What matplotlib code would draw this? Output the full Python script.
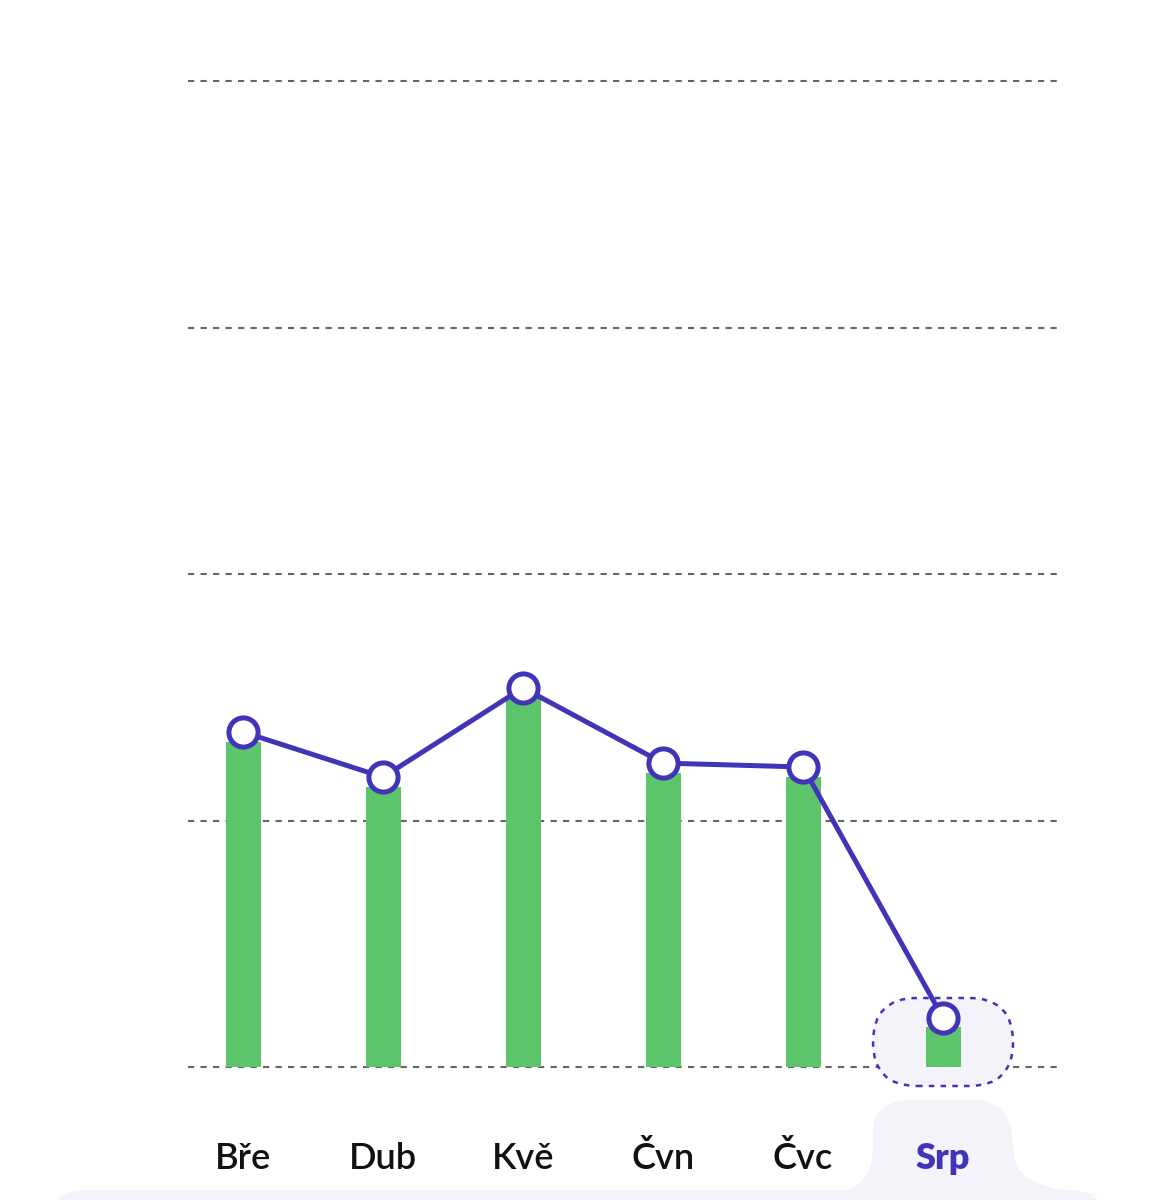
import matplotlib
matplotlib.use("Agg")
import matplotlib.pyplot as plt
from matplotlib.patches import PathPatch, FancyBboxPatch
from matplotlib.path import Path
import matplotlib.transforms as mtransforms

# ---- data ----
months = ["Bře", "Dub", "Kvě", "Čvn", "Čvc", "Srp"]
bar_values = [131.8, 113.6, 149.7, 119.3, 117.6, 16.2]
line_values = [135.9, 117.6, 153.8, 123.3, 121.7, 19.9]
grid_values = [0, 100, 200, 300, 400]
highlight_index = 5

# ---- style ----
W, H = 1155, 1200
GREEN = "#5CC46A"
INDIGO = "#4234B8"
LAVENDER = "#F4F3FA"
GRID = "#666666"

plt.rcParams['font.family'] = ['Lato', 'DejaVu Sans']

fig = plt.figure(figsize=(W / 100, H / 100), dpi=100)
fig.patch.set_facecolor("white")


def fx(px):
    return px / W


def fy(py):
    return 1 - py / H


# background decoration: tab under the highlighted label + bottom band
verts = [
    (fx(828), fy(1195)),
    (fx(862), fy(1190)), (fx(873), fy(1175)), (fx(873), fy(1145)),
    (fx(873), fy(1130)),
    (fx(873), fy(1112)), (fx(888), fy(1100)), (fx(908), fy(1100)),
    (fx(976), fy(1100)),
    (fx(998), fy(1100)), (fx(1010), fy(1115)), (fx(1012), fy(1135)),
    (fx(1015), fy(1160)),
    (fx(1020), fy(1185)), (fx(1060), fy(1192)), (fx(1105), fy(1195)),
    (fx(828), fy(1195)),
]
codes = [Path.MOVETO,
         Path.CURVE4, Path.CURVE4, Path.CURVE4,
         Path.LINETO,
         Path.CURVE4, Path.CURVE4, Path.CURVE4,
         Path.LINETO,
         Path.CURVE4, Path.CURVE4, Path.CURVE4,
         Path.LINETO,
         Path.CURVE4, Path.CURVE4, Path.CURVE4,
         Path.CLOSEPOLY]
fig.patches.append(PathPatch(Path(verts, codes), transform=fig.transFigure,
                             facecolor=LAVENDER, edgecolor="none", zorder=-2))
fig.patches.append(FancyBboxPatch((fx(50), fy(1230)), fx(1105) - fx(50), fy(1190) - fy(1230),
                                  boxstyle="round,pad=0,rounding_size=0.03",
                                  transform=fig.transFigure, facecolor=LAVENDER,
                                  edgecolor="none", zorder=-2))

ax = fig.add_axes([fx(188), 133 / H, (1058 - 188) / W, (1067 - 81) / H])
ax.set_xlim(-0.393, 5.821)
ax.set_ylim(grid_values[0], grid_values[-1])
ax.set_axis_off()

x = list(range(len(months)))

for g in grid_values:
    ax.axhline(g, color=GRID, lw=1.5, ls=(0, (3, 3)), zorder=1, clip_on=False)

# highlight box around the last point
fig.canvas.draw()
cx, _ = ax.transData.transform((x[highlight_index], 0))
_, by = ax.transData.transform((0, 0))
bw, bh = 140, 88
cy = by + 25
hl = FancyBboxPatch((cx - bw / 2, cy - bh / 2), bw, bh,
                    boxstyle="round,pad=0,rounding_size=44",
                    transform=None, facecolor=LAVENDER, edgecolor=INDIGO,
                    lw=1.8, ls=(0, (2.2, 2.5)), zorder=2, clip_on=False)
ax.add_artist(hl)

ax.bar(x, bar_values, width=0.25, color=GREEN, zorder=3)
ax.plot(x, line_values, color=INDIGO, lw=3.6, marker="o", ms=21,
        mfc="white", mec=INDIGO, mew=3.6, zorder=4, clip_on=False)

lab_tr = mtransforms.blended_transform_factory(ax.transData, fig.transFigure)
for i, m in enumerate(months):
    hi = i == highlight_index
    ax.text(i, fy(1169), m, transform=lab_tr, ha="center", va="baseline",
            fontsize=26, fontweight="heavy" if hi else "semibold",
            color=INDIGO if hi else "#111111", zorder=5, clip_on=False)

fig.savefig("out.png", dpi=100, facecolor="white")
